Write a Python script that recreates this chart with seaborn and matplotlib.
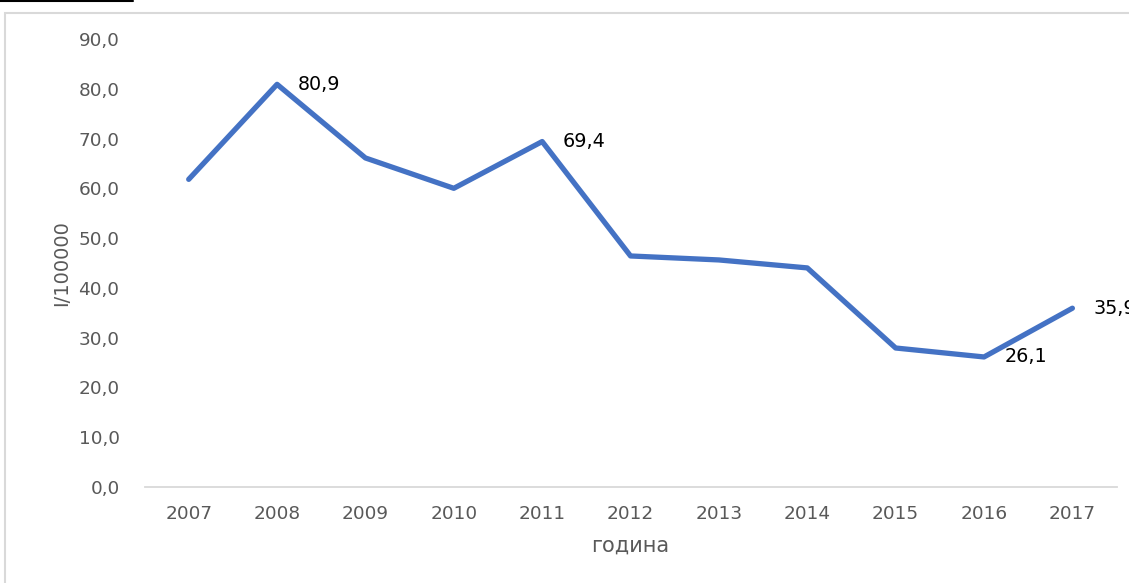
import matplotlib
matplotlib.use("Agg")
import matplotlib.pyplot as plt
import seaborn as sns
from matplotlib.lines import Line2D
from matplotlib.patches import Rectangle
from matplotlib.ticker import FuncFormatter, MultipleLocator

years = ["2007", "2008", "2009", "2010", "2011", "2012",
         "2013", "2014", "2015", "2016", "2017"]
rates = [61.8, 80.9, 66.1, 60.0, 69.4, 46.4, 45.6, 44.0, 27.9, 26.1, 35.9]
labelled = ["2008", "2011", "2016", "2017"]

x_title = "година"
y_title = "I/100000"

sns.set_style("white")
plt.rcParams['font.family'] = ['DejaVu Sans']

fig = plt.figure(figsize=(11.29, 5.83), dpi=100)
ax = fig.add_axes([0.128, 0.165, 0.861, 0.768])

sns.lineplot(x=years, y=rates, ax=ax, color="#4472C4", linewidth=3.8,
             solid_joinstyle="round", solid_capstyle="round")

for i, yr in enumerate(years):
    if yr in labelled:
        ax.annotate(f"{rates[i]:.1f}".replace(".", ","), (i, rates[i]),
                    xytext=(15, 0), textcoords="offset points",
                    ha="left", va="center", fontsize=13.8, color="black",
                    annotation_clip=False)

ax.set_xlim(-0.5, len(years) - 0.5)
ax.set_ylim(0, 90)
ax.yaxis.set_major_locator(MultipleLocator(10))
ax.yaxis.set_major_formatter(FuncFormatter(lambda v, p: f"{v:.1f}".replace(".", ",")))

for s in ["top", "right", "left"]:
    ax.spines[s].set_visible(False)
ax.spines["bottom"].set_color("#d9d9d9")
ax.spines["bottom"].set_linewidth(1.3)

ax.tick_params(axis="both", length=0, labelsize=13.3, labelcolor="#595959")
ax.tick_params(axis="x", pad=13)
ax.tick_params(axis="y", pad=18)
ax.set_xlabel(x_title, fontsize=15, color="#595959", labelpad=9)
ax.set_ylabel(y_title, fontsize=14, color="#595959", labelpad=5)

# chart frame and the cut-off underline above it
fig.add_artist(Rectangle((5 / 1129, -0.1), 1.2, 1.1 - 13 / 583,
                         transform=fig.transFigure, fill=False,
                         edgecolor="#d9d9d9", linewidth=1.5))
fig.add_artist(Line2D([0, 133 / 1129], [1 - 1 / 583, 1 - 1 / 583],
                      transform=fig.transFigure, color="black", linewidth=1.5))

fig.savefig("out.png", dpi=100)
